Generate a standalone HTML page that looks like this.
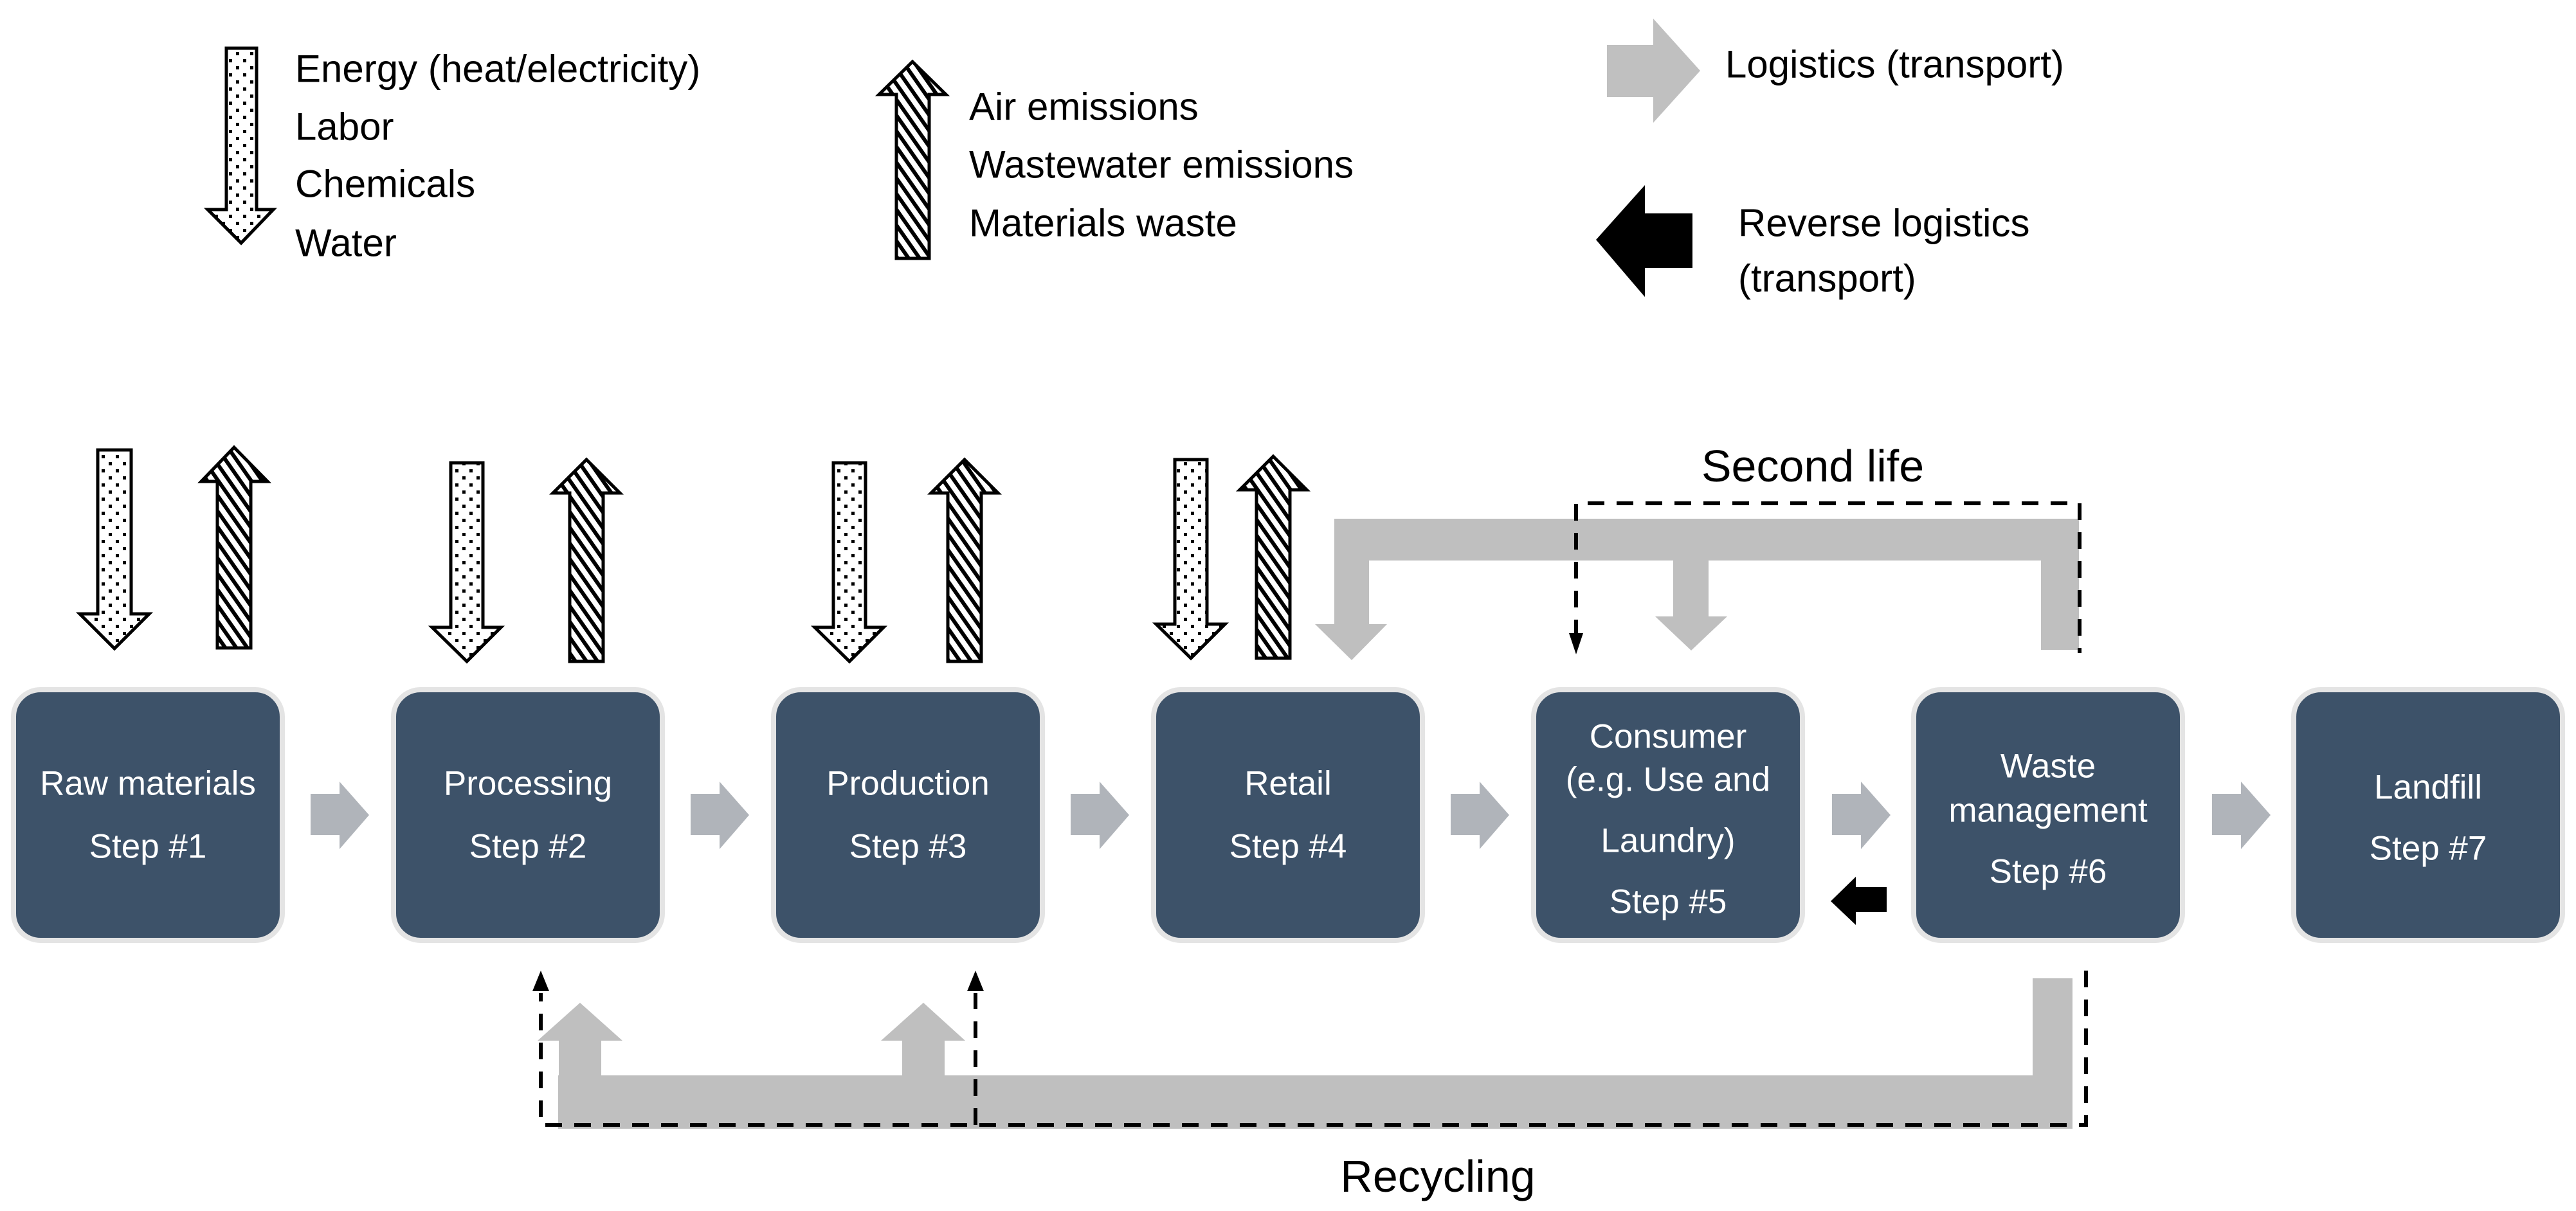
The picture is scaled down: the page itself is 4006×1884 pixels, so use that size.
<!DOCTYPE html>
<html><head><meta charset="utf-8"><style>html,body{margin:0;padding:0;background:#fff}svg{display:block}</style></head>
<body>
<svg width="4006" height="1884" viewBox="0 0 4006 1884" xmlns="http://www.w3.org/2000/svg" font-family="'Liberation Sans', sans-serif">
<defs>
<pattern id="dots" width="22" height="22" patternUnits="userSpaceOnUse"><rect width="22" height="22" fill="#fff"/><rect x="4" y="4" width="5" height="5" fill="#000"/><rect x="15" y="15" width="5" height="5" fill="#000"/></pattern>
<pattern id="hatch" width="14" height="14" patternUnits="userSpaceOnUse" patternTransform="rotate(-35)"><rect width="14" height="14" fill="#fff"/><rect x="0" y="0" width="6" height="14" fill="#000"/></pattern>
</defs>
<g font-size="60" fill="#000" dominant-baseline="central">
<polygon points="352,75 399,75 399,326 425,326 375,378 323,326 352,326" fill="url(#dots)" stroke="#000" stroke-width="5"/>
<text x="459" y="107">Energy (heat/electricity)</text>
<text x="459" y="197">Labor</text>
<text x="459" y="286">Chemicals</text>
<text x="459" y="378">Water</text>
<polygon points="1394,402 1445,402 1445,147 1471,147 1419,96 1367,147 1394,147" fill="url(#hatch)" stroke="#000" stroke-width="5"/>
<text x="1507" y="166">Air emissions</text>
<text x="1507" y="256">Wastewater emissions</text>
<text x="1507" y="347">Materials waste</text>
<polygon points="2499,70 2571,70 2571,29 2644,110 2571,191 2571,151 2499,151" fill="#c0c0c0"/>
<text x="2683" y="100">Logistics (transport)</text>
<polygon points="2632,332 2558,332 2558,288 2482,373 2558,462 2558,417 2632,417" fill="#000"/>
<text x="2703" y="347">Reverse logistics</text>
<text x="2703" y="433">(transport)</text>
</g>
<g stroke="#000" stroke-width="5">
<polygon points="152,700 204,700 204,955 232,955 178,1009 124,955 152,955" fill="url(#dots)"/>
<polygon points="338,1008 390,1008 390,749 416,749 364,696 313,749 338,749" fill="url(#hatch)"/>
<polygon points="701,720 751,720 751,976 779,976 726,1029 672,976 701,976" fill="url(#dots)"/>
<polygon points="886,1029 938,1029 938,767 964,767 912,715 860,767 886,767" fill="url(#hatch)"/>
<polygon points="1296,720 1346,720 1346,976 1374,976 1321,1029 1267,976 1296,976" fill="url(#dots)"/>
<polygon points="1474,1029 1526,1029 1526,767 1552,767 1500,715 1448,767 1474,767" fill="url(#hatch)"/>
<polygon points="1827,715 1877,715 1877,971 1905,971 1852,1024 1798,971 1827,971" fill="url(#dots)"/>
<polygon points="1954,1024 2006,1024 2006,762 2032,762 1980,710 1928,762 1954,762" fill="url(#hatch)"/>
</g>
<g fill="#3d5269" stroke="#e4e4e4" stroke-width="8">
<rect x="21" y="1073" width="418" height="390" rx="42"/>
<rect x="612" y="1073" width="418" height="390" rx="42"/>
<rect x="1203" y="1073" width="418" height="390" rx="42"/>
<rect x="1794" y="1073" width="418" height="390" rx="42"/>
<rect x="2385" y="1073" width="418" height="390" rx="42"/>
<rect x="2976" y="1073" width="418" height="390" rx="42"/>
<rect x="3567" y="1073" width="418" height="390" rx="42"/>
</g>
<g fill="#fff" font-size="53" text-anchor="middle" dominant-baseline="central">
<text x="230" y="1219">Raw materials</text><text x="230" y="1317">Step #1</text>
<text x="821" y="1219">Processing</text><text x="821" y="1317">Step #2</text>
<text x="1412" y="1219">Production</text><text x="1412" y="1317">Step #3</text>
<text x="2003" y="1219">Retail</text><text x="2003" y="1317">Step #4</text>
<text x="2594" y="1146">Consumer</text><text x="2594" y="1213">(e.g. Use and</text><text x="2594" y="1308">Laundry)</text><text x="2594" y="1403">Step #5</text>
<text x="3185" y="1192">Waste</text><text x="3185" y="1261">management</text><text x="3185" y="1356">Step #6</text>
<text x="3776" y="1225">Landfill</text><text x="3776" y="1320">Step #7</text>
</g>
<g fill="#b0b4ba">
<polygon points="483,1235 528,1235 528,1216 574,1268 528,1321 528,1299 483,1299"/>
<polygon points="1074,1235 1119,1235 1119,1216 1165,1268 1119,1321 1119,1299 1074,1299"/>
<polygon points="1665,1235 1710,1235 1710,1216 1756,1268 1710,1321 1710,1299 1665,1299"/>
<polygon points="2256,1235 2301,1235 2301,1216 2347,1268 2301,1321 2301,1299 2256,1299"/>
<polygon points="2849,1235 2894,1235 2894,1216 2940,1268 2894,1321 2894,1299 2849,1299"/>
<polygon points="3440,1235 3485,1235 3485,1216 3531,1268 3485,1321 3485,1299 3440,1299"/>
</g>
<polygon points="2934,1380 2886,1380 2886,1364 2847,1402 2886,1439 2886,1419 2934,1419" fill="#000"/>
<g fill="#bfbfbf">
<rect x="2075" y="807" width="1158" height="65"/>
<rect x="3174" y="807" width="59" height="204"/>
<polygon points="2075,807 2129,807 2129,971 2157,971 2102,1027 2045,971 2075,971"/>
<polygon points="2602,870 2657,870 2657,959 2686,959 2630,1012 2574,959 2602,959"/>
</g>
<g fill="none" stroke="#000" stroke-width="6" stroke-dasharray="26,19">
<polyline points="2451,990 2451,783 3234,783 3234,1016"/>
</g>
<polygon points="2440,985 2462,985 2451,1018" fill="#000"/>
<text x="2819" y="725" font-size="70" text-anchor="middle" dominant-baseline="central">Second life</text>
<g fill="#bfbfbf">
<rect x="868" y="1673" width="2355" height="83"/>
<rect x="3161" y="1522" width="62" height="234"/>
<polygon points="869,1673 869,1619 836,1619 902,1560 968,1619 935,1619 935,1673"/>
<polygon points="1403,1673 1403,1619 1370,1619 1436,1560 1501,1619 1469,1619 1469,1673"/>
</g>
<g fill="none" stroke="#000" stroke-width="6" stroke-dasharray="26,19">
<polyline points="3244,1510 3244,1750 841,1750 841,1545"/>
<line x1="1517" y1="1750" x2="1517" y2="1545"/>
</g>
<polygon points="828,1542 854,1542 841,1510" fill="#000"/>
<polygon points="1504,1542 1530,1542 1517,1510" fill="#000"/>
<text x="2236" y="1830" font-size="70" text-anchor="middle" dominant-baseline="central">Recycling</text>
</svg>
</body></html>
